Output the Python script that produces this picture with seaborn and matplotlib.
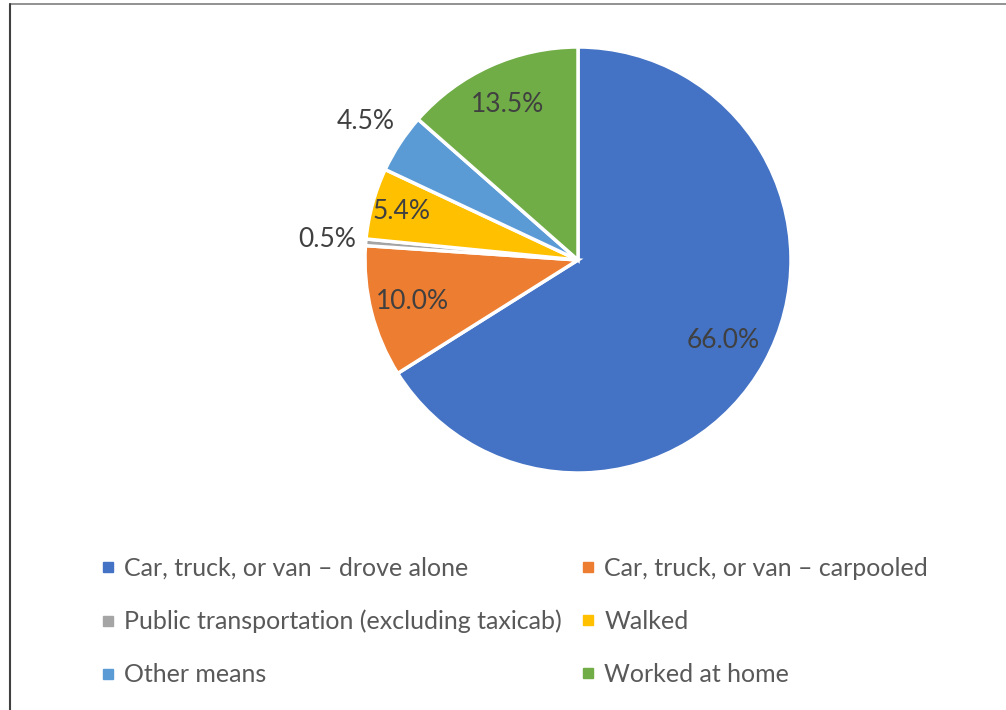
#!/usr/bin/env python3

# Commuting mode shares as a pie chart, Excel-like look.

import numpy as np
import seaborn as sns
import matplotlib.pyplot as plt
from matplotlib.lines import Line2D

modes = [
    "Car, truck, or van \u2013 drove alone",
    "Car, truck, or van \u2013 carpooled",
    "Public transportation (excluding taxicab)",
    "Walked",
    "Other means",
    "Worked at home",
]
shares = [66.0, 10.0, 0.5, 5.4, 4.5, 13.5]
colors = ["#4472C4", "#ED7D31", "#A5A5A5", "#FFC000", "#5B9BD5", "#70AD47"]

sns.set_theme(style="white")
plt.rcParams['font.family'] = ['Lato', 'DejaVu Sans']
text_color = "#595959"

fig = plt.figure(figsize=(10.06, 7.10), dpi=100)

# Pie axes: centre ~ (578, 260) px, radius ~213 px.
cx, cy, r = 578, 260, 213
W, H = 1006, 710
ax = fig.add_axes([(cx - r) / W, (H - cy - r) / H, 2 * r / W, 2 * r / H])

wedges, _ = ax.pie(
    shares, colors=colors, startangle=90, counterclock=False,
    wedgeprops=dict(edgecolor="white", linewidth=2.5),
)
ax.set_xlim(-1, 1)
ax.set_ylim(-1, 1)
ax.set_aspect("equal")
ax.axis("off")

# Label distance (fraction of radius) for each slice.
label_dist = [0.78, 0.8, 1.18, 0.86, 1.19, 0.8]
for w, val, d in zip(wedges, shares, label_dist):
    ang = np.deg2rad((w.theta1 + w.theta2) / 2)
    ax.text(d * np.cos(ang), d * np.sin(ang), f"{val:.1f}%",
            ha="center", va="center", fontsize=19, color="#404040",
            clip_on=False)

# Legend in two columns, row-wise order like the original.
handles = [Line2D([], [], marker="s", linestyle="none", markersize=7,
                  markerfacecolor=c, markeredgecolor=c) for c in colors]
order = [0, 2, 4, 1, 3, 5]
fig.legend([handles[i] for i in order], [modes[i] for i in order],
           ncol=2, loc="upper left", bbox_to_anchor=(0.091, 0.23),
           frameon=False, fontsize=18, labelcolor=text_color,
           handlelength=0.5, handletextpad=0.4, columnspacing=0.8,
           labelspacing=1.2, borderaxespad=0)

# Thin border lines at top and left, as in the screenshot.
fig.add_artist(Line2D([9.5 / W, 1], [1 - 3.5 / H, 1 - 3.5 / H],
                      color="#7f7f7f", linewidth=1.2))
fig.add_artist(Line2D([9.5 / W, 9.5 / W], [0, 1 - 3.5 / H],
                      color="#404040", linewidth=1.5))

fig.savefig("out.png", dpi=100)
